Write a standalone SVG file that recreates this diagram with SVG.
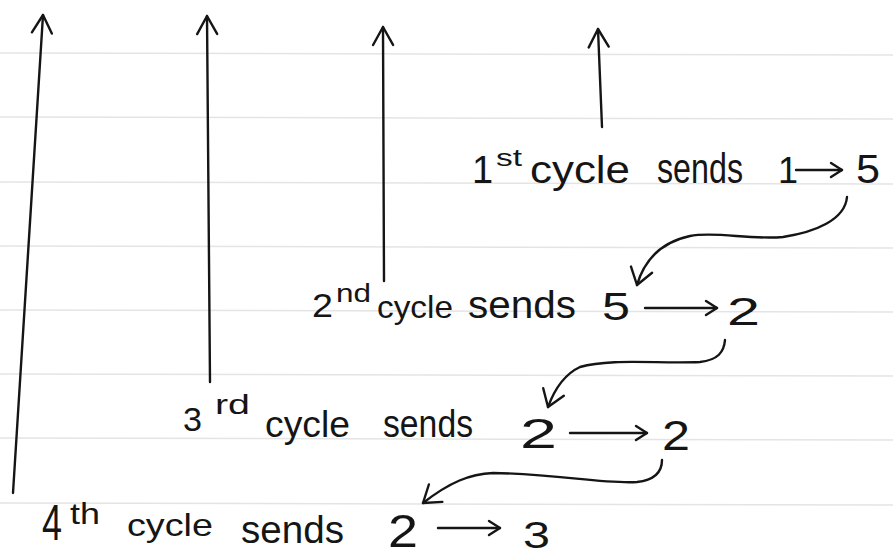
<svg xmlns="http://www.w3.org/2000/svg" width="893" height="556" viewBox="0 0 893 556">
<defs>
<style>
.ink{fill:none;stroke:#151515;stroke-width:2.4;stroke-linecap:round;stroke-linejoin:round}
.t{font-family:"Liberation Sans","DejaVu Sans",sans-serif;font-size:36px;fill:#151515}
.rule{stroke:#e4e4e4;stroke-width:1.5}
</style>
<marker id="hv" viewBox="-20 -12 24 24" markerWidth="24" markerHeight="24" refX="0" refY="0" orient="auto" markerUnits="userSpaceOnUse">
<path d="M-18,-10 L0,0 L-18,10" fill="none" stroke="#151515" stroke-width="2.4" stroke-linecap="round" stroke-linejoin="round"/>
</marker>
<marker id="hs" viewBox="-14 -10 18 20" markerWidth="18" markerHeight="20" refX="0" refY="0" orient="auto" markerUnits="userSpaceOnUse">
<path d="M-11,-7 L0,0 L-11,7" fill="none" stroke="#151515" stroke-width="2.4" stroke-linecap="round" stroke-linejoin="round"/>
</marker>
<marker id="hc" viewBox="-20 -14 24 28" markerWidth="24" markerHeight="28" refX="0" refY="0" orient="auto" markerUnits="userSpaceOnUse">
<path d="M-16,-11 L0,0 L-16,11" fill="none" stroke="#151515" stroke-width="2.4" stroke-linecap="round" stroke-linejoin="round"/>
</marker>
</defs>
<rect width="893" height="556" fill="#ffffff"/>
<g id="paper-rules">
<line class="rule" x1="0" y1="53" x2="893" y2="55"/>
<line class="rule" x1="0" y1="117" x2="893" y2="119"/>
<line class="rule" x1="0" y1="182" x2="893" y2="184"/>
<line class="rule" x1="0" y1="246" x2="893" y2="248"/>
<line class="rule" x1="0" y1="310" x2="893" y2="312"/>
<line class="rule" x1="0" y1="374" x2="893" y2="376"/>
<line class="rule" x1="0" y1="438" x2="893" y2="440"/>
<line class="rule" x1="0" y1="503" x2="893" y2="505"/>
</g>
<g id="line1">
<text class="t" x="472" y="183" style="font-size:38px">1</text>
<text class="t" x="496" y="166" textLength="26" lengthAdjust="spacingAndGlyphs" style="font-size:24px">st</text>
<text class="t" x="530" y="183" textLength="100" lengthAdjust="spacingAndGlyphs" style="font-size:38px">cycle</text>
<text class="t" x="657" y="183" textLength="86" lengthAdjust="spacingAndGlyphs" style="font-size:42px">sends</text>
<text class="t" x="778" y="183" style="font-size:36px">1</text>
<text class="t" x="856" y="183" textLength="24" lengthAdjust="spacingAndGlyphs" style="font-size:40px">5</text>
</g>
<g id="line2">
<text class="t" x="312" y="317" textLength="21" lengthAdjust="spacingAndGlyphs" style="font-size:34px">2</text>
<text class="t" x="336" y="302" textLength="35" lengthAdjust="spacingAndGlyphs" style="font-size:26px">nd</text>
<text class="t" x="377" y="318" textLength="76" lengthAdjust="spacingAndGlyphs" style="font-size:32px">cycle</text>
<text class="t" x="468" y="318" textLength="108" lengthAdjust="spacingAndGlyphs" style="font-size:38px">sends</text>
<text class="t" x="602" y="320" textLength="28" lengthAdjust="spacingAndGlyphs" style="font-size:39px">5</text>
<text class="t" x="727" y="325" textLength="33" lengthAdjust="spacingAndGlyphs" style="font-size:38px">2</text>
</g>
<g id="line3">
<text class="t" x="183" y="431" textLength="19" lengthAdjust="spacingAndGlyphs" style="font-size:34px">3</text>
<text class="t" x="215" y="414" textLength="35" lengthAdjust="spacingAndGlyphs" style="font-size:28px">rd</text>
<text class="t" x="265" y="437" textLength="85" lengthAdjust="spacingAndGlyphs">cycle</text>
<text class="t" x="383" y="437" textLength="90" lengthAdjust="spacingAndGlyphs" style="font-size:38px">sends</text>
<text class="t" x="520" y="448" textLength="37" lengthAdjust="spacingAndGlyphs" style="font-size:43px">2</text>
<text class="t" x="662" y="450" textLength="28" lengthAdjust="spacingAndGlyphs" style="font-size:42px">2</text>
</g>
<g id="line4">
<text class="t" x="42" y="540" textLength="20" lengthAdjust="spacingAndGlyphs" style="font-size:50px">4</text>
<text class="t" x="70" y="524" textLength="30" lengthAdjust="spacingAndGlyphs" style="font-size:30px">th</text>
<text class="t" x="127" y="536" textLength="86" lengthAdjust="spacingAndGlyphs" style="font-size:32px">cycle</text>
<text class="t" x="241" y="543" textLength="103" lengthAdjust="spacingAndGlyphs" style="font-size:38px">sends</text>
<text class="t" x="388" y="547" textLength="30" lengthAdjust="spacingAndGlyphs" style="font-size:46px">2</text>
<text class="t" x="523" y="548" textLength="27" lengthAdjust="spacingAndGlyphs" style="font-size:36px">3</text>
</g>
<g id="connectors">
<path class="ink" d="M13,493 L43,15" marker-end="url(#hv)"/>
<path class="ink" d="M210,382 L207,16" marker-end="url(#hv)"/>
<path class="ink" d="M384,281 L383,27" marker-end="url(#hv)"/>
<path class="ink" d="M602,127 L598,29" marker-end="url(#hv)"/>
<path class="ink" d="M796,170 L842,170" marker-end="url(#hs)"/>
<path class="ink" d="M645,308 L717,308" marker-end="url(#hs)"/>
<path class="ink" d="M570,433 L647,433" marker-end="url(#hs)"/>
<path class="ink" d="M438,528 L500,528" marker-end="url(#hs)"/>
<path class="ink" d="M847,197 C845,220 815,232 783,237 C750,240 715,231 690,236 C662,242 645,258 637,285" marker-end="url(#hc)"/>
<path class="ink" d="M725,340 C724,352 718,360 700,362 C660,364 610,358 580,367 C565,374 555,388 548,407" marker-end="url(#hc)"/>
<path class="ink" d="M662,460 C662,472 655,480 637,482 C600,484 560,474 493,473 C470,474 450,482 423,503" marker-end="url(#hc)"/>
</g>
</svg>
